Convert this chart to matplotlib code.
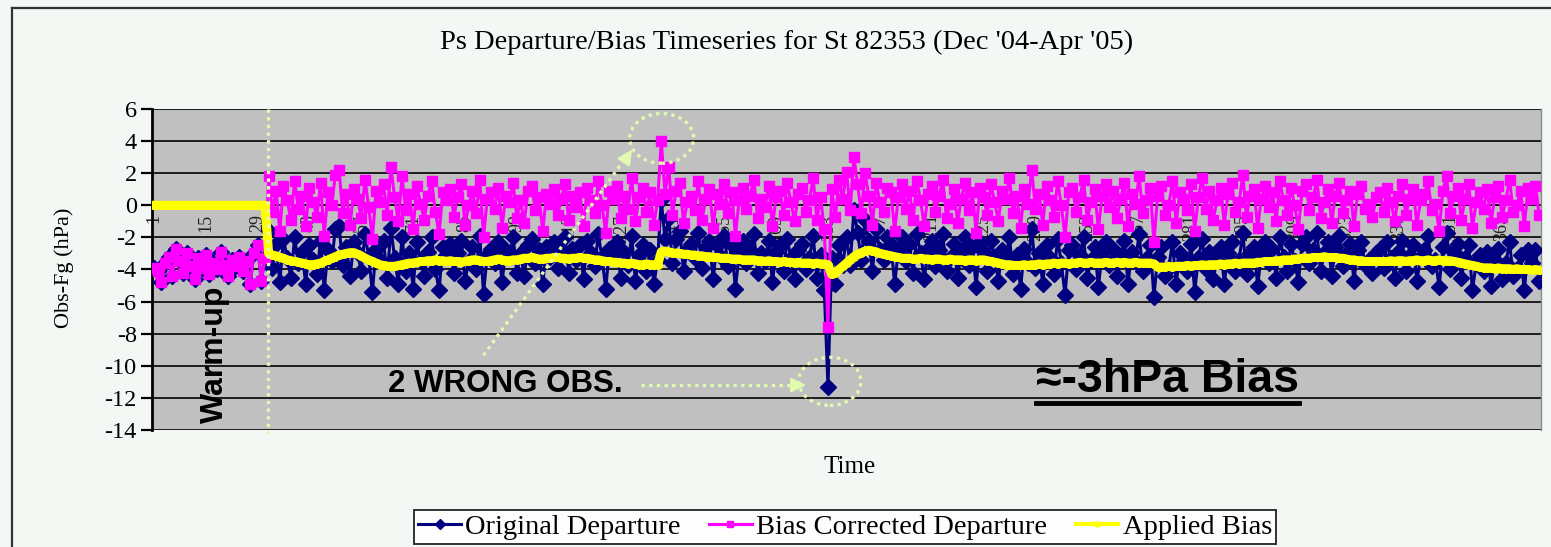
import matplotlib
matplotlib.use("Agg")
import matplotlib.pyplot as plt
from matplotlib.patches import Ellipse
from matplotlib.lines import Line2D
import numpy as np

# ---------------------------------------------------------------- data
title = "Ps Departure/Bias Timeseries for St 82353 (Dec '04-Apr '05)"
x_label = "Time"
y_label = "Obs-Fg (hPa)"
series_names = ["Original Departure", "Bias Corrected Departure", "Applied Bias"]
y_ticks = [6, 4, 2, 0, -2, -4, -6, -8, -10, -12, -14]
x_tick_positions = list(range(1, 366, 14))
x_tick_labels = [str(v) for v in x_tick_positions]
warmup_end = 31.85

original_departure = [
    -3.9, -4.1, -4.8, -3.6, -3.2, -4.4, -2.7, -3.5, -4.2, -3.0,
    -3.8, -4.6, -3.3, -3.9, -3.1, -4.3, -3.6, -4.0, -2.9, -3.7,
    -4.4, -3.4, -3.8, -3.2, -4.1, -3.5, -4.9, -3.0, -2.5, -4.7,
    -3.3,
    -1.6, -3.9, -2.4, -4.8, -2.1, -3.3, -4.5, -2.0, -3.6, -2.9,
    -4.9, -2.5, -3.4, -4.3, -2.2, -5.3, -2.8, -3.5, -1.5, -1.3,
    -3.7, -2.6, -4.4, -2.3, -3.0, -4.1, -1.8, -3.2, -5.4, -2.7,
    -3.4, -2.2, -4.5, -1.4, -3.3, -4.9, -2.0, -4.1, -3.0, -5.2,
    -2.3, -3.5, -4.4, -2.9, -2.0, -4.0, -5.3, -2.6, -3.1, -2.4,
    -4.2, -3.0, -2.2, -4.7, -3.5, -2.6, -4.0, -1.9, -5.5, -3.1,
    -2.7, -3.6, -2.3, -4.8, -2.8, -3.2, -2.0, -4.2, -3.0, -4.4,
    -2.5, -2.1, -3.6, -2.8, -4.9, -2.6, -3.2, -2.3, -3.9, -2.9,
    -2.0, -4.2, -2.7, -3.4, -2.5, -4.6, -2.2, -3.0, -3.8, -1.8,
    -3.3, -5.2, -2.7, -3.1, -2.3, -4.5, -2.9, -3.7, -1.9, -4.7,
    -3.1, -2.5, -4.1, -2.8, -4.9, -3.4,
    0.3, -2.1, -0.8,
    -3.6, -2.1, -1.6, -4.1, -2.8, -2.4, -3.3, -1.7, -3.9, -2.6,
    -2.2, -4.6, -2.5, -3.2, -1.9, -3.8, -2.5, -5.2, -3.1, -2.2,
    -3.6, -2.8, -1.8, -4.2, -3.0, -3.5, -2.2, -4.8, -2.9, -2.5,
    -4.1, -2.1, -3.3, -4.6, -2.8, -2.4, -4.0, -3.3, -1.9, -4.5,
    -3.1, -5.3,
    -11.3,
    -3.3,
    -4.9, -2.5, -3.7, -2.0, -3.7,
    -0.3,
    -1.7, -3.4, -0.9, -2.2, -4.1, -1.5, -2.8, -3.4, -2.0, -2.4,
    -4.9, -2.8, -2.0, -3.5, -2.4, -4.2, -1.8, -3.0, -4.6, -2.7,
    -2.2, -3.8, -2.8, -1.8, -4.1, -3.3, -2.4, -4.5, -3.0, -2.0,
    -3.7, -2.6, -5.1, -2.3, -2.9, -4.1, -2.2, -3.2, -4.7, -2.8,
    -3.3, -2.0, -4.3, -3.1, -5.2, -2.7, -3.6, -1.5, -3.9, -3.0,
    -4.9, -2.5, -3.3, -4.3, -2.1, -3.6, -5.6, -2.8, -2.5, -4.0,
    -3.1, -2.0, -4.5, -3.4, -2.6, -5.1, -3.0, -2.3, -3.7, -2.7,
    -4.4, -3.2, -2.2, -4.9, -2.9, -3.5, -1.8, -4.1, -3.3, -2.5,
    -5.7, -3.2, -2.6, -4.4, -3.9, -2.3, -4.9, -3.0, -3.4, -4.1,
    -2.4, -5.4, -3.3, -2.1, -4.0, -2.9, -4.6, -3.4, -2.6, -4.9,
    -3.0, -2.3, -4.1, -3.4, -1.7, -4.3, -3.0, -2.6, -5.0, -3.1,
    -2.3, -3.6, -2.7, -4.5, -2.0, -3.2, -4.1, -2.4, -3.5, -4.8,
    -2.4, -2.0, -3.6, -2.8, -1.7, -4.1, -3.0, -2.3, -4.4, -2.6,
    -1.9, -3.8, -3.0, -2.4, -4.7, -2.8, -2.3, -3.7, -3.4, -4.2,
    -3.0, -2.7, -3.9, -2.3, -3.3, -4.5, -2.9, -2.2, -4.1, -3.1,
    -2.5, -4.7, -3.2, -2.8, -1.9, -3.8, -3.4, -5.1, -2.6, -1.7,
    -4.0, -2.9, -2.4, -4.5, -3.3, -2.5, -5.3, -3.6, -3.1, -4.1,
    -2.9, -5.0, -3.4, -2.7, -4.6, -3.6, -2.3, -4.4, -4.0, -3.1,
    -5.3, -2.8, -3.6, -2.8, -4.7,
]

bias_corrected_departure = [
    -3.9, -4.1, -4.8, -3.6, -3.2, -4.4, -2.7, -3.5, -4.2, -3.0,
    -3.8, -4.6, -3.3, -3.9, -3.1, -4.3, -3.6, -4.0, -2.9, -3.7,
    -4.4, -3.4, -3.8, -3.2, -4.1, -3.5, -4.9, -3.0, -2.5, -4.7,
    -3.3,
    1.8, -0.4, 0.9, -1.6, 1.2, 0.3, -0.9, 1.5, -0.2, 0.6,
    -1.3, 1.1, 0.2, -0.7, 1.4, -1.9, 0.8, 0.0, 1.9, 2.2,
    -0.5, 0.7, -1.2, 1.0, 0.4, -0.8, 1.6, -0.1, -2.1, 0.9,
    0.2, 1.3, -0.6, 2.4, 0.5, -1.0, 1.8, -0.3, 0.7, -1.5,
    1.2, 0.1, -0.9, 0.6, 1.5, -0.4, -1.8, 0.8, 0.3, 1.0,
    -0.7, 0.5, 1.3, -1.2, 0.0, 0.9, -0.5, 1.6, -2.0, 0.4,
    0.8, -0.2, 1.1, -1.4, 0.6, 0.2, 1.4, -0.8, 0.3, -1.1,
    0.9, 1.2, -0.3, 0.5, -1.6, 0.7, 0.1, 1.0, -0.6, 0.4,
    1.3, -0.9, 0.6, -0.1, 0.8, -1.3, 1.1, 0.3, -0.5, 1.5,
    0.0, -1.7, 0.9, 0.4, 1.2, -0.8, 0.6, -0.2, 1.7, -1.0,
    0.5, 1.1, -0.4, 0.8, -1.2, 0.3,
    4.0, 0.7, 2.4,
    -0.6, 0.9, 1.4, -1.1, 0.2, 0.6, -0.3, 1.5, -0.9, 0.4,
    1.0, -1.4, 0.7, 0.1, 1.3, -0.5, 0.8, -1.9, 0.3, 1.1,
    -0.2, 0.6, 1.6, -0.8, 0.4, -0.1, 1.2, -1.3, 0.5, 0.9,
    -0.6, 1.4, 0.2, -1.0, 0.7, 1.1, -0.4, 0.3, 1.7, -0.9,
    0.5, -1.5,
    -7.6,
    1.0,
    -0.7, 1.6, 0.4, 2.1, -0.3,
    3.0,
    1.3, -0.5, 2.0, 0.6, -1.2, 1.4, 0.2, -0.4, 1.1, 0.8,
    -1.6, 0.5, 1.3, -0.2, 0.9, -0.9, 1.5, 0.3, -1.3, 0.7,
    1.2, -0.4, 0.6, 1.6, -0.8, 0.1, 1.0, -1.1, 0.4, 1.4,
    -0.3, 0.8, -1.7, 1.1, 0.5, -0.6, 1.3, 0.2, -1.0, 0.9,
    0.4, 1.7, -0.5, 0.6, -1.4, 1.0, 0.1, 2.2, -0.2, 0.7,
    -1.2, 1.2, 0.3, -0.7, 1.5, 0.0, -2.0, 0.8, 1.1, -0.4,
    0.5, 1.6, -0.9, 0.2, 1.0, -1.5, 0.6, 1.3, -0.1, 0.9,
    -0.8, 0.4, 1.4, -1.3, 0.7, 0.1, 1.8, -0.5, 0.3, 1.1,
    -2.3, 0.6, 1.2, -0.6, 0.0, 1.5, -1.1, 0.8, 0.4, -0.3,
    1.3, -1.6, 0.5, 1.7, -0.2, 0.9, -0.9, 0.3, 1.1, -1.2,
    0.7, 1.4, -0.4, 0.2, 1.9, -0.7, 0.6, 1.0, -1.4, 0.4,
    1.2, -0.1, 0.8, -1.0, 1.5, 0.3, -0.6, 1.1, 0.0, -1.5,
    0.9, 1.3, -0.3, 0.5, 1.6, -0.8, 0.2, 1.0, -1.1, 0.6,
    1.4, -0.5, 0.3, 0.9, -1.3, 0.7, 1.2, -0.2, 0.1, -0.7,
    0.5, 0.8, -0.4, 1.1, 0.2, -1.0, 0.6, 1.3, -0.6, 0.4,
    1.0, -1.2, 0.3, 0.7, 1.5, -0.3, 0.1, -1.6, 0.9, 1.8,
    -0.5, 0.6, 1.1, -0.9, 0.4, 1.3, -1.4, 0.2, 0.8, -0.2,
    1.0, -1.1, 0.5, 1.2, -0.7, 0.3, 1.6, -0.4, 0.0, 0.9,
    -1.3, 1.1, 0.4, 1.2, -0.6,
]

applied_bias = [
    0.0, 0.0, 0.0, 0.0, 0.0, 0.0, 0.0, 0.0, 0.0, 0.0,
    0.0, 0.0, 0.0, 0.0, 0.0, 0.0, 0.0, 0.0, 0.0, 0.0,
    0.0, 0.0, 0.0, 0.0, 0.0, 0.0, 0.0, 0.0, 0.0, 0.0,
    0.0,
    -3.0, -3.1, -3.15, -3.25, -3.3, -3.4, -3.45, -3.5, -3.55,
    -3.6, -3.65, -3.7, -3.7, -3.65, -3.6, -3.5, -3.4, -3.3, -3.2, -3.1, -3.05, -3.0, -2.95,
    -2.95, -3.05, -3.15, -3.3, -3.4, -3.5, -3.6, -3.7, -3.75, -3.8, -3.8,
    -3.8, -3.75, -3.7, -3.65, -3.6, -3.6, -3.55, -3.5, -3.5, -3.45, -3.45, -3.4, -3.45, -3.45, -3.5, -3.45,
    -3.5, -3.5, -3.55, -3.5, -3.45, -3.4, -3.4, -3.45, -3.5, -3.5, -3.45, -3.4, -3.35, -3.4, -3.45, -3.45, -3.4, -3.4,
    -3.35, -3.3, -3.3, -3.25, -3.3, -3.35, -3.35, -3.3, -3.3, -3.25, -3.25, -3.3, -3.3, -3.35, -3.3, -3.3, -3.25, -3.3,
    -3.3, -3.35, -3.4, -3.4, -3.45, -3.5, -3.5, -3.55, -3.55, -3.6, -3.6, -3.65, -3.6, -3.65, -3.7, -3.7, -3.65, -3.7, -3.7, -3.7,
    -2.9, -2.85, -2.9,
    -2.95, -3.0, -3.0, -3.05, -3.05, -3.1, -3.1, -3.15, -3.15, -3.2, -3.2, -3.25, -3.25, -3.3, -3.3, -3.3, -3.35, -3.35, -3.35, -3.4, -3.4, -3.4,
    -3.4, -3.45, -3.45, -3.5, -3.45, -3.5, -3.5, -3.55, -3.5, -3.55, -3.55, -3.6, -3.55, -3.6, -3.6, -3.6, -3.65, -3.6, -3.65, -3.65,
    -3.7,
    -4.3, -4.2, -4.0, -3.8, -3.6, -3.4, -3.2, -3.05, -2.95, -2.85, -2.8,
    -2.85, -2.9, -3.0, -3.05, -3.1, -3.15, -3.2, -3.25, -3.3,
    -3.3, -3.3, -3.35, -3.35, -3.3, -3.35, -3.35, -3.4, -3.35, -3.35, -3.4, -3.4, -3.35, -3.4, -3.4, -3.4, -3.45, -3.4, -3.4, -3.45, -3.4, -3.4,
    -3.45, -3.5, -3.55, -3.6, -3.65, -3.7, -3.7, -3.75, -3.75,
    -3.75, -3.7, -3.75, -3.7, -3.7, -3.65, -3.7, -3.65, -3.65, -3.6, -3.65, -3.6, -3.6, -3.65, -3.6, -3.6, -3.55, -3.6, -3.6, -3.55, -3.6, -3.6, -3.6,
    -3.55, -3.6, -3.6, -3.55, -3.6, -3.55, -3.6, -3.6, -3.55, -3.6, -3.6, -3.6, -3.6, -3.65,
    -3.85, -3.85, -3.85, -3.8, -3.85, -3.8, -3.8, -3.8, -3.75, -3.8, -3.75, -3.75, -3.7, -3.75, -3.7, -3.7, -3.7, -3.65, -3.7, -3.65, -3.65, -3.6, -3.65, -3.6, -3.6, -3.6,
    -3.6, -3.55, -3.55, -3.5, -3.5, -3.5, -3.45, -3.45, -3.4, -3.4, -3.4, -3.35, -3.35, -3.3, -3.3, -3.3, -3.25, -3.25, -3.25, -3.2, -3.25, -3.25, -3.25,
    -3.3, -3.3, -3.35, -3.4, -3.4, -3.45, -3.45, -3.5, -3.5, -3.5, -3.5, -3.5, -3.5,
    -3.5, -3.45, -3.5, -3.45, -3.45, -3.5, -3.45, -3.45, -3.4, -3.45, -3.45, -3.4, -3.45, -3.45, -3.4, -3.45, -3.45, -3.45,
    -3.5, -3.55, -3.6, -3.65, -3.7, -3.75, -3.8, -3.85, -3.9,
    -3.9, -3.9, -3.95, -3.9, -3.95, -3.95, -3.95, -4.0, -3.95, -4.0, -4.0, -4.0, -4.05, -4.0, -4.05,
]

# ---------------------------------------------------------------- styling
BG = "#F4F8F5"
PLOT_BG = "#C0C0C0"
NAVY = "#000080"
MAGENTA = "#FF00FF"
YELLOW = "#FFFF00"
NOTE = "#E2FAB0"
SERIF = ["Liberation Serif", "DejaVu Serif"]
SANS = ["Liberation Sans", "DejaVu Sans"]

W, H = 1551, 547
fig = plt.figure(figsize=(W / 100, H / 100), dpi=100, facecolor=BG)


def fx(px):
    return px / W


def fy(py):
    return 1 - py / H


ax = fig.add_axes([fx(152), fy(430), fx(1541) - fx(152), fy(109) - fy(430)])
ax.set_facecolor(PLOT_BG)

n_max = max(len(original_departure), len(bias_corrected_departure), len(applied_bias))
ax.set_xlim(0.5, n_max + 0.5)
ax.set_ylim(-14, 6)

# horizontal gridlines
ax.set_axisbelow(True)
ax.set_yticks(y_ticks)
ax.yaxis.grid(True, color="black", lw=1.2)
ax.set_yticklabels([str(v) for v in y_ticks], fontfamily=SERIF, fontsize=17.5)
ax.tick_params(axis="y", direction="out", length=8, width=1.6, pad=3)

# category axis crossing at zero
ax.spines["bottom"].set_position(("data", 0))
ax.spines["bottom"].set_linestyle((0, (3, 3)))
ax.spines["bottom"].set_linewidth(1.2)
ax.spines["bottom"].set_zorder(0.6)
ax.set_xticks(x_tick_positions)
ax.set_xticklabels(x_tick_labels, rotation=90, fontfamily=SERIF, fontsize=13,
                   color="#222222")
ax.tick_params(axis="x", length=0, pad=6)
ax.spines["left"].set_linewidth(2.0)
ax.spines["top"].set_visible(False)
ax.spines["right"].set_color("#8A8A8A")
ax.spines["right"].set_linewidth(1.0)

# series
x_orig = np.arange(1, len(original_departure) + 1)
x_corr = np.arange(1, len(bias_corrected_departure) + 1)
x_bias = np.arange(1, len(applied_bias) + 1)

ax.plot(x_orig, original_departure, color=NAVY, lw=2.2, marker="D", ms=8.0,
        mec=NAVY, mfc=NAVY, label=series_names[0], zorder=3)
ax.plot(x_corr, bias_corrected_departure, color=MAGENTA, lw=2.2, marker="s", ms=7.5,
        mec=MAGENTA, mfc=MAGENTA, label=series_names[1], zorder=4)
ax.plot(x_bias, applied_bias, color=YELLOW, lw=6.5, marker="o", ms=5.5,
        mec=YELLOW, mfc=YELLOW, label=series_names[2], zorder=5)

# warm-up divider and notes
dot = (0, (1, 1.3))
ax.plot([warmup_end, warmup_end], [6, -14.2], color=NOTE, lw=2.4, ls=dot,
        clip_on=False, zorder=6)
ax.text(17.5, -9.3, "Warm-up", rotation=90, ha="center", va="center",
        fontfamily=SANS, fontweight="bold", fontsize=23, zorder=7)

ax.text(64.3, -11.15, "2 WRONG OBS.", ha="left", va="center",
        fontfamily=SANS, fontweight="bold", fontsize=22.5, zorder=7)

# pointers to the two suspicious observations
ax.plot([90.0, 128.5], [-9.35, 3.0], color=NOTE, lw=2.4, ls=dot, zorder=6)
ax.annotate("", xy=(130.5, 3.62), xytext=(127.6, 2.6),
            arrowprops=dict(arrowstyle="-|>,head_length=0.9,head_width=0.45",
                            color=NOTE, lw=1.5), zorder=6)
ax.plot([132.4, 175.0], [-11.2, -11.2], color=NOTE, lw=2.4, ls=dot, zorder=6)
ax.annotate("", xy=(177.8, -11.2), xytext=(174.0, -11.2),
            arrowprops=dict(arrowstyle="-|>,head_length=0.9,head_width=0.45",
                            color=NOTE, lw=1.5), zorder=6)
ax.add_patch(Ellipse((138.1, 4.17), 17.3, 3.1, fill=False, ec=NOTE, lw=2.4,
                     ls=dot, zorder=6))
ax.add_patch(Ellipse((183.5, -10.97), 16.8, 3.0, fill=False, ec=NOTE, lw=2.4,
                     ls=dot, zorder=6))

bias_note = ax.text(239.1, -10.9, "\u2248-3hPa Bias", ha="left", va="center",
                    fontfamily=SANS, fontweight="bold", fontsize=33.5, zorder=7)

# titles
fig.text(fx(787), fy(42), title, ha="center", va="center",
         fontfamily=SERIF, fontsize=20.5)
fig.text(fx(64), fy(268), y_label, rotation=90, ha="center", va="center",
         fontfamily=SERIF, fontsize=16)
fig.text(fx(850), fy(467), x_label, ha="center", va="center",
         fontfamily=SERIF, fontsize=18)

# legend
leg = fig.legend(loc="center", bbox_to_anchor=(fx(845), fy(527)), ncol=3,
                 prop={"family": SERIF, "size": 20.5}, frameon=True, fancybox=False,
                 edgecolor="black", facecolor="white", handlelength=1.5,
                 handletextpad=0.15, columnspacing=1.0, borderpad=0.15,
                 markerscale=0.65)
leg.get_frame().set_linewidth(1.4)
for h in leg.get_lines():
    if h.get_color() == YELLOW:
        h.set_linewidth(3)

# outer frame of the figure
fig.add_artist(Line2D([fx(12), fx(12)], [0, fy(8)], transform=fig.transFigure,
                      color="#333333", lw=1.6))
fig.add_artist(Line2D([fx(12), 1], [fy(8), fy(8)], transform=fig.transFigure,
                      color="#333333", lw=1.6))

# underline the bias note
fig.canvas.draw()
bb = bias_note.get_window_extent(renderer=fig.canvas.get_renderer())
fig.add_artist(Line2D([bb.x0 / W, bb.x1 / W], [(bb.y0 - 1) / H, (bb.y0 - 1) / H],
                      transform=fig.transFigure, color="black", lw=3.5))

fig.savefig("out.png", dpi=100, facecolor=BG)
